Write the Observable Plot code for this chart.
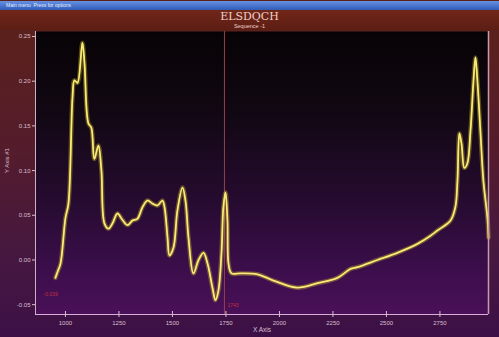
<!DOCTYPE html>
<html>
<head>
<meta charset="utf-8">
<script src="https://cdn.jsdelivr.net/npm/d3@7"></script>
<script src="https://cdn.jsdelivr.net/npm/@observablehq/plot@0.6"></script>
<style>
  html, body { margin: 0; padding: 0; background: #ffffff; }
  #win {
    position: relative; width: 499px; height: 337px; overflow: hidden;
    font-family: "Liberation Sans", Arial, sans-serif;
    background: linear-gradient(#5c2218 0%, #541c2c 45%, #461840 75%, #3c1046 100%);
  }
  #bar {
    height: 9px; margin-top: 1px; padding-left: 6px;
    background: linear-gradient(#6690e2, #2f5cb8);
    color: #e4ecff; font-size: 5px; line-height: 9px;
  }
  #head {
    height: 20px; text-align: center; color: #f0d2ca;
    background: linear-gradient(#722618, #5c1e14);
  }
  #head .t { font-family: "DejaVu Serif", "Liberation Serif", serif; font-size: 11px; line-height: 12px; padding-top: 1px; }
  #head .s { font-size: 5.5px; line-height: 6px; }
  #chart svg { display: block; overflow: visible; }
</style>
</head>
<body>
<div id="win">
  <div id="bar">Main menu &nbsp;Press for options</div>
  <div id="head"><div class="t">ELSDQCH</div><div class="s">Sequence -1</div></div>
  <div id="chart"></div>
</div>
<script>
// Spectrum: wavenumber (X Axis) against absorbance (Y Axis #1)
const wavenumber = [
  953, 965, 977, 1000, 1014, 1033, 1042, 1056, 1079, 1089, 1107, 1121, 1135, 1154, 1168,
  1182, 1201, 1220, 1243, 1266, 1290, 1313, 1336, 1360, 1383, 1407, 1430, 1453, 1463,
  1477, 1486, 1505, 1523, 1547, 1561, 1575, 1598, 1622, 1645, 1664, 1687, 1701, 1715,
  1729, 1738, 1748, 1757, 1762, 1776, 1818, 1897, 1972, 2084, 2178, 2271, 2332, 2365,
  2458, 2551, 2645, 2706, 2738, 2799, 2822, 2832, 2841, 2851, 2864, 2878, 2893, 2907,
  2916, 2925, 2939, 2953, 2972, 2977
];
const absorbance = [
  -0.020, -0.012, -0.004, 0.047, 0.063, 0.182, 0.201, 0.198, 0.243, 0.220, 0.153, 0.148, 0.113, 0.128, 0.100,
  0.041, 0.035, 0.041, 0.052, 0.045, 0.039, 0.044, 0.046, 0.059, 0.0665, 0.063, 0.061, 0.0665, 0.059,
  0.025, 0.005, 0.014, 0.055, 0.081, 0.066, 0.025, -0.015, 0.000, 0.008, -0.004, -0.031, -0.045, -0.034,
  0.007, 0.059, 0.0755, 0.044, -0.004, -0.015, -0.015, -0.016, -0.023, -0.031, -0.026, -0.020, -0.010, -0.008,
  0.000, 0.008, 0.018, 0.027, 0.033, 0.044, 0.059, 0.089, 0.1415, 0.130, 0.103, 0.108, 0.145, 0.201,
  0.2265, 0.201, 0.145, 0.089, 0.047, 0.025
];
const xTicks = [1000, 1250, 1500, 1750, 2000, 2250, 2500, 2750];
const yTicks = [-0.05, 0.00, 0.05, 0.10, 0.15, 0.20, 0.25];
const xDomain = [860, 2977];
const yDomain = [-0.061, 0.2556];
// cursor readout
const cursorX = [1743];
const cursorReadout = [{x: 1743, y: -0.039, xText: "1743", yText: "-0.039"}];

const spectrum = wavenumber.map((w, i) => ({w, a: absorbance[i]}));

const axisColor = "#d8bfd0";
const fmtY = d => d.toFixed(2);

// gradient for the plotting area
const defs = () => {
  const g = d3.create("svg:defs");
  const lg = g.append("linearGradient").attr("id", "plotBg")
    .attr("x1", 0).attr("y1", 0).attr("x2", 0).attr("y2", 1);
  [["0%", "#070305"], ["30%", "#120814"], ["60%", "#260b30"], ["85%", "#3c0e4c"], ["100%", "#4a1058"]]
    .forEach(([o, c]) => lg.append("stop").attr("offset", o).attr("stop-color", c));
  return g.node();
};

const chart = Plot.plot({
  width: 499,
  height: 307,
  marginLeft: 35,
  marginRight: 11,
  marginTop: 1,
  marginBottom: 23,
  style: {background: "transparent", color: axisColor, fontSize: "6px", fontFamily: "Liberation Sans, Arial, sans-serif"},
  x: {domain: xDomain, label: null},
  y: {domain: yDomain, label: null},
  marks: [
    defs,
    Plot.frame({fill: "url(#plotBg)", stroke: null}),
    Plot.ruleX(cursorX, {stroke: "#96404e", strokeWidth: 1}),
    // glow under the trace
    Plot.line(spectrum, {x: "w", y: "a", curve: "catmull-rom", stroke: "#d9c42a", strokeWidth: 4.5, strokeOpacity: 0.35}),
    Plot.line(spectrum, {x: "w", y: "a", curve: "catmull-rom", stroke: "#f4e45a", strokeWidth: 1.8}),
    Plot.line(spectrum, {x: "w", y: "a", curve: "catmull-rom", stroke: "#fff6b8", strokeWidth: 0.6, strokeOpacity: 0.8}),
    // axis lines and border
    Plot.ruleX([xDomain[0]], {stroke: "#cdb0c4", strokeWidth: 1}),
    Plot.ruleX([xDomain[1]], {stroke: "#c99aac", strokeWidth: 1.5}),
    Plot.ruleY([yDomain[0]], {stroke: "#d8aedc", strokeWidth: 1.2}),
    Plot.axisY({ticks: yTicks, tickFormat: fmtY, tickSize: 3, tickPadding: 2, stroke: axisColor, fill: axisColor, label: null}),
    Plot.axisX({ticks: xTicks, tickFormat: d => String(d), tickSize: 3, tickPadding: 3, stroke: axisColor, fill: axisColor, label: null}),
    Plot.axisX({ticks: xTicks, tickSize: -3, text: null, stroke: axisColor, label: null}),
    Plot.text(["Y Axis #1"], {frameAnchor: "left", rotate: -90, dx: -28, fill: axisColor, fontSize: 6}),
    Plot.text(["X Axis"], {frameAnchor: "bottom", dy: 17, fill: axisColor, fontSize: 6.5}),
    // cursor readout labels
    Plot.text(cursorReadout, {y: "y", text: "yText", frameAnchor: "left", dx: 8, textAnchor: "start", fill: "#c2303c", fontSize: 5}),
    Plot.text(cursorReadout, {x: "x", text: "xText", frameAnchor: "bottom", dy: -8, dx: 3, textAnchor: "start", fill: "#c2303c", fontSize: 5})
  ]
});
document.getElementById("chart").append(chart);
</script>
</body>
</html>
